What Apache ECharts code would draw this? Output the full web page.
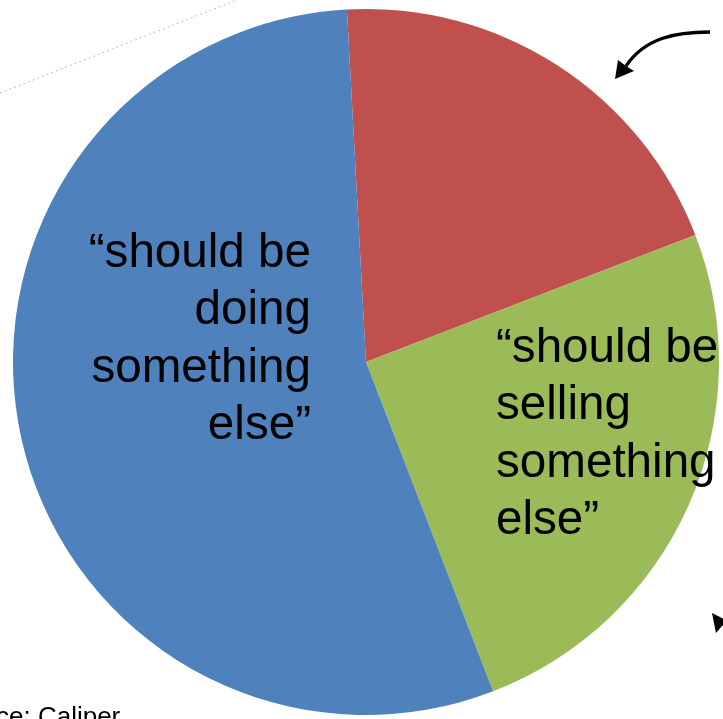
<!DOCTYPE html>
<html>
<head>
<meta charset="utf-8">
<script src="https://cdn.jsdelivr.net/npm/echarts@6/dist/echarts.min.js"></script>
<style>html,body{margin:0;padding:0;background:#fff}#c{width:723px;height:719px}</style>
</head>
<body>
<div id="c"></div>
<script>
const categories = ['other', 'should be selling something else', 'should be doing something else'];
const values = [20, 25, 55];
const colors = ['#C0504D', '#9BBB59', '#4F81BD'];
const labelBlue = '\u201Cshould be\ndoing\nsomething\nelse\u201D';
const labelGreen = '\u201Cshould be\nselling\nsomething\nelse\u201D';
const sourceText = 'ce: Caliper';

const chart = echarts.init(document.getElementById('c'), null, {renderer: 'canvas'});
const font = '"Liberation Sans", Arial, sans-serif';
chart.setOption({
  animation: false,
  backgroundColor: '#fff',
  series: [{
    type: 'pie',
    center: [366, 362],
    radius: 353,
    startAngle: 93.1,
    clockwise: true,
    label: {show: false},
    labelLine: {show: false},
    emphasis: {disabled: true},
    itemStyle: {borderWidth: 0},
    data: categories.map((c, i) => ({name: c, value: values[i], itemStyle: {color: colors[i]}}))
  }],
  graphic: [
    {type: 'line', shape: {x1: 0, y1: 93, x2: 237, y2: 0}, style: {stroke: '#bbbbbb', lineWidth: 1, lineDash: [2, 3]}, z: 1},
    {type: 'text', x: 311, y: 225, style: {text: labelBlue, font: '47.6px ' + font, fill: '#000', align: 'right', verticalAlign: 'top', lineHeight: 57.5}, z: 10},
    {type: 'text', x: 496, y: 320, style: {text: labelGreen, font: '47.6px ' + font, fill: '#000', align: 'left', verticalAlign: 'top', lineHeight: 57.5}, z: 10},
    {type: 'text', x: -4, y: 718, style: {text: sourceText, font: '26px ' + font, fill: '#000', align: 'left', verticalAlign: 'middle'}, z: 10},
    {type: 'bezierCurve', shape: {x1: 710, y1: 32, cpx1: 675, cpy1: 32, cpx2: 645, cpy2: 38, x2: 626, y2: 66}, style: {stroke: '#000', lineWidth: 3.3, fill: null}, z: 10},
    {type: 'polygon', shape: {points: [[615, 79], [618, 60], [626, 66], [634, 71]]}, style: {fill: '#000'}, z: 10},
    {type: 'polygon', shape: {points: [[712, 613], [716, 633], [722, 626], [730, 622]]}, style: {fill: '#000'}, z: 10}
  ]
});
</script>
</body>
</html>
